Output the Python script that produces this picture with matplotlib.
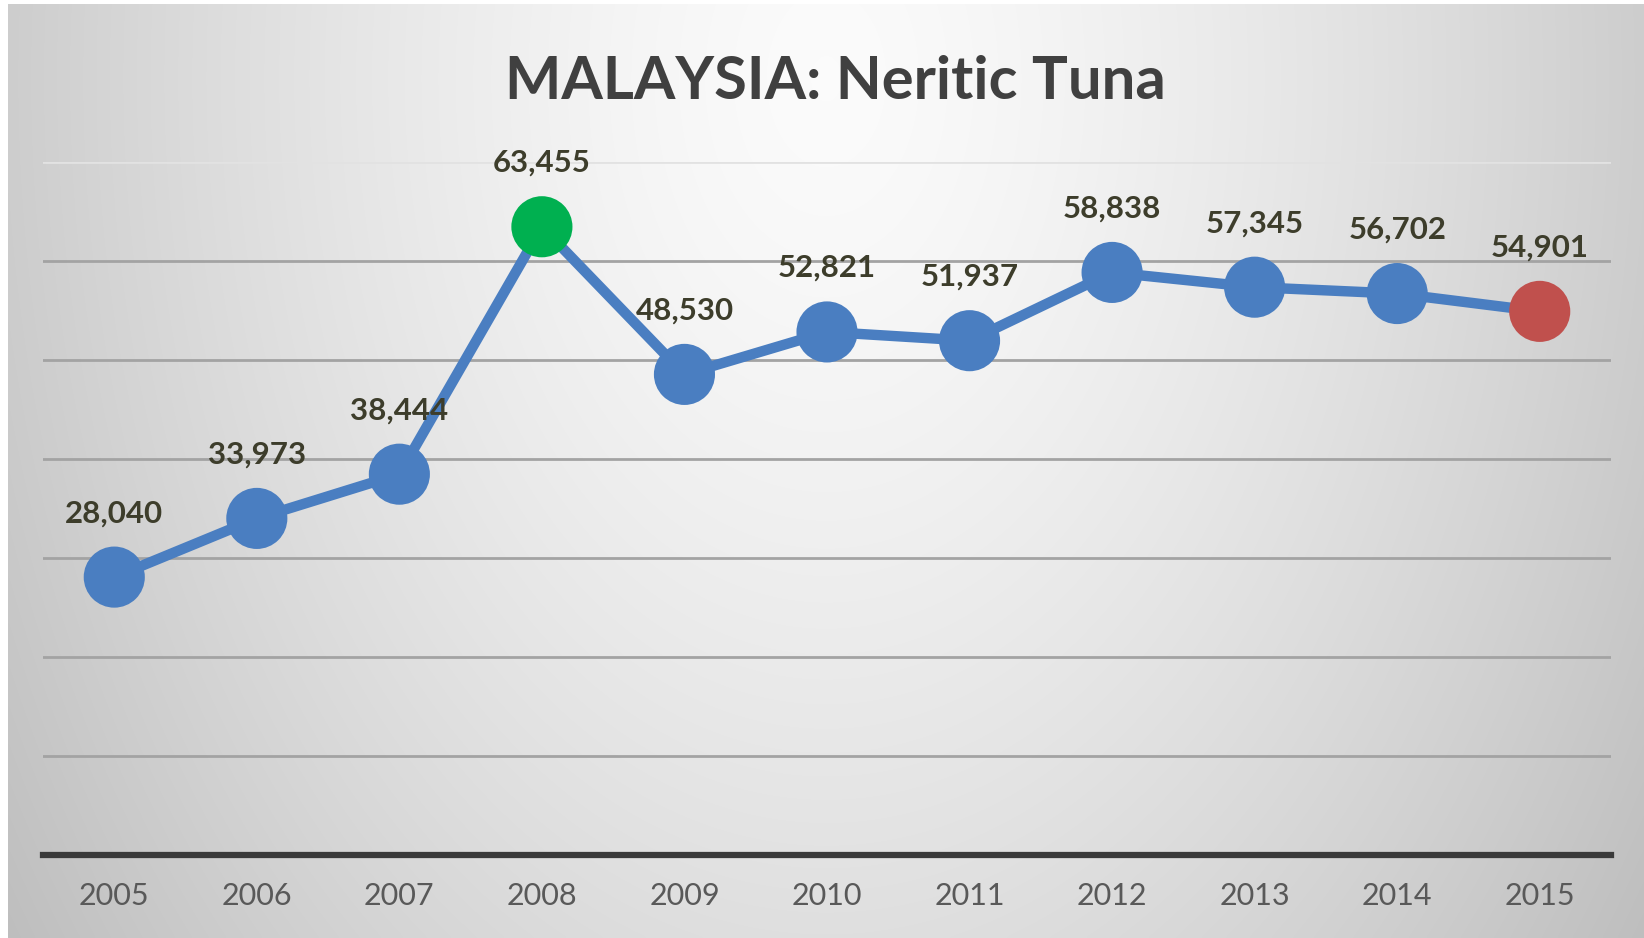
import numpy as np
import matplotlib
matplotlib.use("Agg")
import matplotlib.pyplot as plt

years = ["2005", "2006", "2007", "2008", "2009", "2010", "2011", "2012", "2013", "2014", "2015"]
catch = [28040, 33973, 38444, 63455, 48530, 52821, 51937, 58838, 57345, 56702, 54901]
point_colors = ["#4a7ec1", "#4a7ec1", "#4a7ec1", "#00b050", "#4a7ec1", "#4a7ec1",
                "#4a7ec1", "#4a7ec1", "#4a7ec1", "#4a7ec1", "#c0504d"]
title = "MALAYSIA: Neritic Tuna"

W, H = 1644, 938
fig = plt.figure(figsize=(W / 100, H / 100), dpi=100)
fig.patch.set_facecolor("white")

# background gradient panel (leaves thin white strip at left and top)
bg = fig.add_axes([8 / W, 0, 1 - 8 / W, 1 - 4 / H])
bg.set_axis_off()
yy, xx = np.mgrid[0:1:400j, 0:1:700j]
d = np.sqrt(((xx - 0.5) / 0.5) ** 2 + ((yy - 0.08) / 1.3) ** 2)
val = 0.985 - 0.18 * d ** 1.4
img = np.dstack([val, val, val])
bg.imshow(img, aspect="auto", extent=[0, 1, 1, 0], interpolation="bicubic")

left, right = 43 / W, 1611 / W
bottom, top = 1 - 854.5 / H, 1 - 162 / H
ax = fig.add_axes([left, bottom, right - left, top - bottom])
ax.patch.set_alpha(0)

x = np.arange(len(years))
ax.set_xlim(-0.5, len(years) - 0.5)
ax.set_ylim(0, 70000)
ax.set_yticks(np.arange(0, 70001, 10000))
ax.yaxis.grid(True, color="#a3a3a3", linewidth=2)
ax.get_ygridlines()[-1].set_color("#e2e2e2")
ax.set_axisbelow(True)
for s in ["left", "right", "top"]:
    ax.spines[s].set_visible(False)
ax.spines["bottom"].set_color("#3a3a3a")
ax.spines["bottom"].set_linewidth(4.5)
ax.spines["bottom"].set_zorder(5)
ax.tick_params(axis="y", left=False, labelleft=False)
ax.tick_params(axis="x", length=0, pad=20)
ax.set_xticks(x)
ax.set_xticklabels(years, fontfamily="Lato", fontsize=22, color="#595959")

ax.plot(x, catch, color="#4a7ec1", linewidth=7.5, zorder=3, solid_capstyle="round")
ax.scatter(x, catch, s=44 ** 2, c=point_colors, zorder=4, linewidths=0)

for xi, v in zip(x, catch):
    ax.annotate(f"{v:,}", (xi, v), xytext=(0, 46), textcoords="offset points",
                ha="center", va="center", fontfamily="Lato", fontweight="bold",
                fontsize=22.5, color="#3d3d2b", zorder=6)

fig.text(835 / W, 1 - 82 / H, title, ha="center", va="center", fontfamily="Lato",
         fontweight="bold", fontsize=43, color="#404040")

fig.savefig("out.png", dpi=100)
